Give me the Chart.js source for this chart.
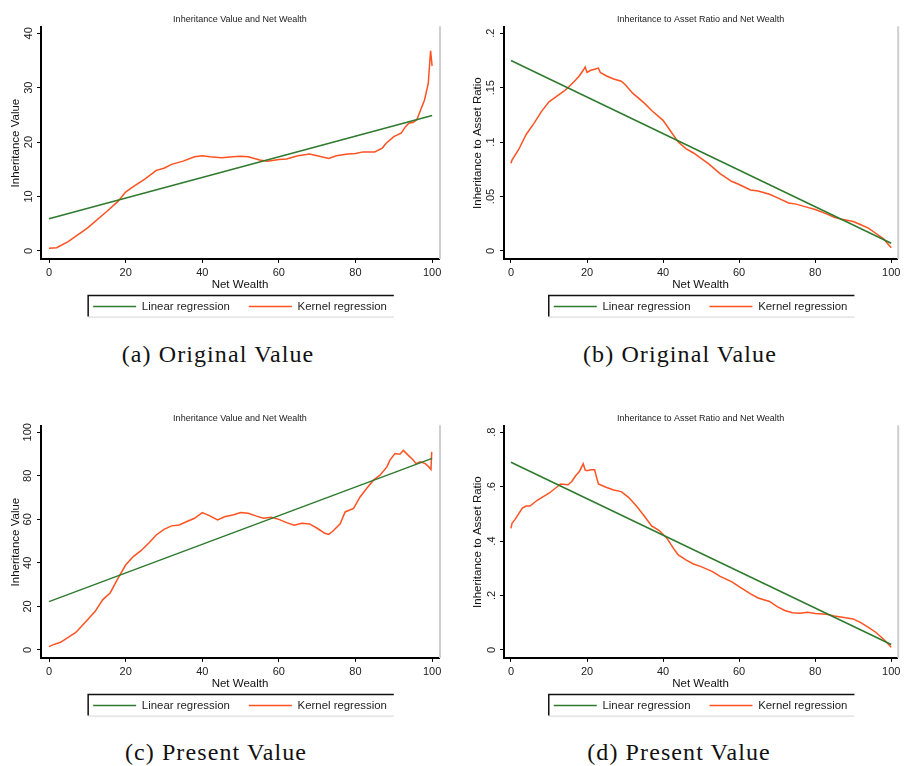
<!DOCTYPE html>
<html>
<head>
<meta charset="utf-8">
<script src="https://cdn.jsdelivr.net/npm/chart.js@4.4.1/dist/chart.umd.min.js"></script>
<style>
  body { margin: 0; background: #fff; width: 904px; height: 766px; position: relative; overflow: hidden; }
  canvas { position: absolute; }
  .legenda { position: absolute; width: 300px; text-align: center; font-family: 'Liberation Serif', 'Times New Roman', serif;
             font-size: 24px; line-height: 28px; letter-spacing: 1.1px; color: #111; }
</style>
</head>
<body>
<canvas id="chartA" width="452" height="330" style="left:0;top:0"></canvas>
<canvas id="chartB" width="452" height="330" style="left:452px;top:0"></canvas>
<canvas id="chartC" width="452" height="330" style="left:0;top:399px"></canvas>
<canvas id="chartD" width="452" height="330" style="left:452px;top:399px"></canvas>
<div class="legenda" style="left:68px;top:340px">(a) Original Value</div>
<div class="legenda" style="left:530px;top:340px">(b) Original Value</div>
<div class="legenda" style="left:66px;top:738px">(c) Present Value</div>
<div class="legenda" style="left:529px;top:738px">(d) Present Value</div>
<script>
var ticksX = [0, 20, 40, 60, 80, 100];

// (a) valor original da heranca
var kernelXA = [0, 2, 5, 10, 15, 18, 20, 22, 25, 28, 30, 32, 35, 38, 40, 42, 45, 48, 50, 52, 55, 57, 60, 62, 65, 68, 70, 73, 75, 78,
                80, 82, 85, 87, 88, 90, 92, 93, 94, 95, 96, 97, 98, 99, 99.6, 100];
var kernelYA = [0.5, 0.6, 1.7, 4.2, 7.2, 9.1, 10.8, 11.8, 13.2, 14.8, 15.2, 15.9, 16.5, 17.3, 17.5, 17.3, 17.1, 17.3, 17.4, 17.3,
                16.7, 16.5, 16.8, 16.9, 17.5, 17.8, 17.5, 17.0, 17.5, 17.8, 17.9, 18.2, 18.2, 18.9, 19.8, 21.0, 21.7, 22.8, 23.5, 23.6,
                24.1, 25.9, 27.7, 30.8, 36.8, 34.0];
var linearXA = [0, 100];
var linearYA = [5.9, 24.9];
var ticksYA = [0, 10, 20, 30, 40];

// (b) razao heranca/ativos, valor original
var kernelXB = [0, 0.3, 2, 4, 6, 8, 10, 12, 14, 15, 17, 18, 19, 19.5, 20, 21, 22, 23, 23.5, 25, 27, 29, 30, 32, 35, 37, 40, 42, 44, 46,
                48, 50, 52, 55, 58, 60, 63, 65, 68, 70, 73, 75, 78, 80, 83, 85, 87, 90, 92, 94, 96, 98, 100];
var kernelYB = [0.0805, 0.0836, 0.093, 0.107, 0.117, 0.128, 0.137, 0.142, 0.147, 0.150, 0.157, 0.161, 0.166, 0.169, 0.164, 0.166,
                0.167, 0.168, 0.164, 0.161, 0.158, 0.156, 0.153, 0.145, 0.136, 0.129, 0.120, 0.110, 0.100, 0.094, 0.090, 0.085,
                0.080, 0.071, 0.064, 0.061, 0.056, 0.055, 0.052, 0.049, 0.044, 0.043, 0.040, 0.038, 0.034, 0.031, 0.029, 0.027,
                0.024, 0.021, 0.016, 0.011, 0.003];
var linearXB = [0, 100];
var linearYB = [0.175, 0.007];
var ticksYB = [0, 0.05, 0.1, 0.15, 0.2];

// (c) valor presente da heranca
var kernelXC = [0, 1, 3, 5, 7, 10, 12, 14, 16, 18, 20, 22, 24, 26, 28, 30, 32, 34, 36, 38, 40, 42, 44, 46, 48, 50, 52, 54, 56, 58,
                60, 62, 64, 66, 68, 70, 72, 73, 74, 76, 77.3, 79.5, 81.2, 82.9, 84.7, 86.4, 88.2, 89, 90.3, 91.6, 92.5, 93.8, 95.1,
                95.8, 96.9, 98.2, 99, 99.7, 99.9];
var kernelYC = [1.5, 2.3, 3.5, 5.8, 8, 13.8, 17.6, 23, 26.3, 32.9, 39, 42.9, 45.6, 49, 52.8, 55.4, 57, 57.4, 59, 60.5, 63.1, 61.6,
                59.7, 61.3, 62, 63.1, 62.8, 61.6, 60.5, 61, 60, 58.5, 57.3, 58.2, 57.9, 55.9, 53.6, 53.1, 54.4, 57.9, 63.4, 65.0,
                70.3, 74.2, 78.0, 80.3, 84.1, 87.2, 90.2, 89.9, 91.7, 89.4, 87.2, 85.6, 86.4, 85.6, 84.4, 82.9, 91];
var linearXC = [0, 100];
var linearYC = [22.2, 88];
var ticksYC = [0, 20, 40, 60, 80, 100];

// (d) razao heranca/ativos, valor presente
var kernelXD = [0, 0.3, 1, 3, 4, 5, 7, 10, 12, 13, 15, 16, 17, 18, 19, 19.5, 20, 21, 22, 22.5, 23, 25, 27, 29, 31, 33, 35, 37, 39, 41,
                43, 44, 46, 48, 50, 53, 55, 58, 60, 63, 65, 68, 70, 72, 74, 76, 78, 80, 83, 85, 88, 90, 92, 94, 96, 98, 100];
var kernelYD = [0.447, 0.466, 0.478, 0.521, 0.529, 0.529, 0.551, 0.576, 0.598, 0.610, 0.607, 0.619, 0.640, 0.656, 0.684, 0.662,
                0.659, 0.662, 0.662, 0.635, 0.610, 0.598, 0.588, 0.582, 0.560, 0.529, 0.493, 0.456, 0.439, 0.411, 0.368, 0.349,
                0.331, 0.316, 0.306, 0.288, 0.270, 0.251, 0.233, 0.206, 0.191, 0.178, 0.159, 0.145, 0.137, 0.135, 0.138, 0.134,
                0.131, 0.125, 0.118, 0.114, 0.100, 0.083, 0.064, 0.039, 0.010];
var linearXD = [0, 100];
var linearYD = [0.69, 0.02];
var ticksYD = [0, 0.2, 0.4, 0.6, 0.8];

var verde = '#2e7a2e';
var laranja = '#ff5220';
var fonte = "'Liberation Sans', Arial, sans-serif";

Chart.defaults.font.family = fonte;

function pontos(xs, ys) {
  return xs.map(function (x, i) { return { x: x, y: ys[i] }; });
}

// estilo Stata: .2 em vez de 0.2
function rotuloStata(v) {
  return v === 0 ? '0' : String(v).replace(/^0\./, '.');
}

// moldura da legenda e borda cinza do lado direito
var molduraStata = {
  id: 'molduraStata',
  afterDraw: function (chart) {
    var ctx = chart.ctx;
    var area = chart.chartArea;
    ctx.save();
    ctx.strokeStyle = '#cfcfcf';
    ctx.lineWidth = 2;
    ctx.beginPath();
    ctx.moveTo(area.right + 1, area.top - 1);
    ctx.lineTo(area.right + 1, area.bottom);
    ctx.stroke();

    var caixas = chart.legend.legendHitBoxes;
    if (caixas && caixas.length) {
      var primeira = caixas[0], ultima = caixas[caixas.length - 1];
      var meio = primeira.top + primeira.height / 2;
      var esq = primeira.left - 5, dir = ultima.left + ultima.width + 7;
      var topo = meio - 11, base = meio + 10;
      ctx.strokeStyle = '#d6d6d6';
      ctx.lineWidth = 1;
      ctx.beginPath();
      ctx.moveTo(esq, base + 0.5);
      ctx.lineTo(dir, base + 0.5);
      ctx.stroke();
      ctx.strokeStyle = '#111';
      ctx.lineWidth = 1.5;
      ctx.beginPath();
      ctx.moveTo(esq, base);
      ctx.lineTo(esq, topo);
      ctx.lineTo(dir, topo);
      ctx.stroke();
    }
    ctx.restore();
  }
};

function novoGrafico(id, p) {
  var config = {
    type: 'line',
    data: {
      datasets: [{
        label: 'Linear regression',
        data: pontos(p.linX, p.linY),
        borderColor: verde,
        backgroundColor: verde,
        borderWidth: 1.5,
        pointRadius: 0
      }, {
        label: 'Kernel regression',
        data: pontos(p.kerX, p.kerY),
        borderColor: laranja,
        backgroundColor: laranja,
        borderWidth: 1.5,
        pointRadius: 0
      }]
    },
    options: {
      responsive: false,
      animation: false,
      layout: { padding: { left: 0, right: p.dirPad, top: 0, bottom: 7.7 } },
      plugins: {
        title: {
          display: true, text: p.titulo, fullSize: false, color: '#222',
          font: { size: 9, weight: 'normal' }, padding: { top: 14.5, bottom: 2 }
        },
        legend: {
          position: 'bottom', fullSize: false,
          labels: { boxWidth: 43, boxHeight: 0, padding: 19, color: '#222', font: { size: 11.4 } }
        },
        tooltip: { enabled: false }
      },
      scales: {
        x: {
          type: 'linear', min: p.xMin, max: p.xMax,
          afterBuildTicks: function (s) { s.ticks = ticksX.map(function (v) { return { value: v }; }); },
          afterFit: function (s) { s.height = 23; },
          grid: { drawOnChartArea: false, tickLength: 4, color: '#000' },
          border: { color: '#000', width: 2 },
          ticks: { color: '#222', font: { size: 11 }, padding: 3.5, maxRotation: 0 },
          title: { display: true, text: 'Net Wealth', color: '#111', font: { size: 11.5 }, padding: { top: 0, bottom: -10 } }
        },
        y: {
          min: p.yMin, max: p.yMax,
          afterBuildTicks: function (s) { s.ticks = p.ticksY.map(function (v) { return { value: v }; }); },
          afterFit: function (s) { s.width = p.eixoX; },
          grid: { drawOnChartArea: false, tickLength: 4, color: '#000' },
          border: { color: '#000', width: 2 },
          ticks: { color: '#222', font: { size: 11 }, padding: p.tickPad, minRotation: 90, maxRotation: 90,
                   crossAlign: 'center', callback: rotuloStata },
          title: { display: true, text: p.tituloY, color: '#111', font: { size: 11.5 }, padding: { top: p.titPad, bottom: 0 } }
        }
      }
    },
    plugins: [molduraStata]
  };
  return new Chart(document.getElementById(id), config);
}

var chartA = novoGrafico('chartA', {
  titulo: 'Inheritance Value and Net Wealth', tituloY: 'Inheritance Value',
  linX: linearXA, linY: linearYA, kerX: kernelXA, kerY: kernelYA, ticksY: ticksYA,
  xMin: -2.09, xMax: 101.8, yMin: -1.47, yMax: 41.1, eixoX: 41, dirPad: 13, tickPad: 1.5, titPad: 8.5
});

var chartB = novoGrafico('chartB', {
  titulo: 'Inheritance to Asset Ratio and Net Wealth', tituloY: 'Inheritance to Asset Ratio',
  linX: linearXB, linY: linearYB, kerX: kernelXB, kerY: kernelYB, ticksY: ticksYB,
  xMin: -1.83, xMax: 101.57, yMin: -0.00735, yMax: 0.2055, eixoX: 52, dirPad: 4, tickPad: 1, titPad: 18.5
});

var chartC = novoGrafico('chartC', {
  titulo: 'Inheritance Value and Net Wealth', tituloY: 'Inheritance Value',
  linX: linearXC, linY: linearYC, kerX: kernelXC, kerY: kernelYC, ticksY: ticksYC,
  xMin: -2.09, xMax: 101.8, yMin: -3.67, yMax: 102.75, eixoX: 41, dirPad: 13, tickPad: 0, titPad: 8.5
});

var chartD = novoGrafico('chartD', {
  titulo: 'Inheritance to Asset Ratio and Net Wealth', tituloY: 'Inheritance to Asset Ratio',
  linX: linearXD, linY: linearYD, kerX: kernelXD, kerY: kernelYD, ticksY: ticksYD,
  xMin: -1.83, xMax: 101.57, yMin: -0.0294, yMax: 0.822, eixoX: 52, dirPad: 4, tickPad: 3.5, titPad: 18.5
});
</script>
</body>
</html>
